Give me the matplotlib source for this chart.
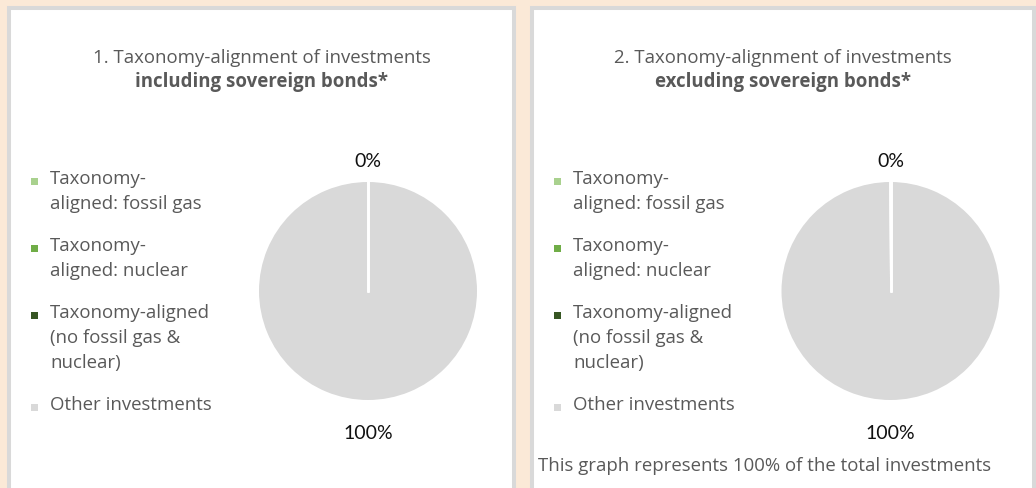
import numpy as np
import matplotlib.pyplot as plt
from matplotlib.patches import Rectangle

W, H = 1036, 488

categories = ['Taxonomy-aligned: fossil gas', 'Taxonomy-aligned: nuclear',
              'Taxonomy-aligned (no fossil gas & nuclear)', 'Other investments']
legend_lines = [['Taxonomy-', 'aligned: fossil gas'],
                ['Taxonomy-', 'aligned: nuclear'],
                ['Taxonomy-aligned', '(no fossil gas &', 'nuclear)'],
                ['Other investments']]
colors = ['#A9D18E', '#70AD47', '#375623', '#D9D9D9']

incl_values = [0, 0, 0, 100]
excl_values = [0, 0, 0, 100]

titles = ['1. Taxonomy-alignment of investments', '2. Taxonomy-alignment of investments']
subtitles = ['including sovereign bonds*', 'excluding sovereign bonds*']
footer = 'This graph represents 100% of the total investments'

bg = '#FBE9D7'
border = '#D9D9D9'
grey_text = '#595959'
font = 'Open Sans'
fs = 13.4


def fx(x):
    return x / W


def fy(y):
    # pixel from top -> figure fraction
    return 1 - y / H


fig = plt.figure(figsize=(W / 100, H / 100), dpi=100, facecolor=bg)

# panel boxes (left edge, right edge in pixels)
panels = [(9, 514), (532, 1034)]
for x0, x1 in panels:
    fig.patches.append(Rectangle((fx(x0), fy(H + 20)), fx(x1 - x0), (H + 20 - 8.5) / H,
                                 transform=fig.transFigure, facecolor='white',
                                 edgecolor=border, linewidth=2.9, zorder=-5))


def draw_panel(x0, x1, title, subtitle, values, pie_cx):
    cx = (x0 + x1) / 2
    fig.text(fx(cx), fy(58), title, ha='center', va='center', fontsize=fs,
             color=grey_text, family=font)
    fig.text(fx(cx), fy(82), subtitle, ha='center', va='center', fontsize=fs,
             color=grey_text, family=font, fontweight='bold')

    # legend
    y = 179
    for lines, c in zip(legend_lines, colors):
        fig.patches.append(Rectangle((fx(x0 + 22), fy(y + 6)), fx(7), 7 / H,
                                     transform=fig.transFigure, facecolor=c,
                                     edgecolor='none'))
        for i, line in enumerate(lines):
            fig.text(fx(x0 + 41), fy(y + i * 25), line, ha='left', va='center',
                     fontsize=fs, color=grey_text, family=font)
        y += len(lines) * 25 + 17

    # pie
    r = 109
    cy = 291
    ax = fig.add_axes([fx(pie_cx - r), fy(cy + r), fx(2 * r), 2 * r / H])
    wedges, _ = ax.pie(values, colors=colors, startangle=90, counterclock=False,
                       wedgeprops=dict(edgecolor='none', linewidth=0))
    ax.set_xlim(-1, 1)
    ax.set_ylim(-1, 1)
    ax.set_aspect('auto')
    ax.axis('off')

    # white separators between slices
    for w in wedges:
        t = np.deg2rad(w.theta1)
        ax.plot([0, np.cos(t)], [0, np.sin(t)], color='white', lw=2.0,
                solid_capstyle='round')

    drawn = set()
    total = sum(values)
    for w, v in zip(wedges, values):
        mid = np.deg2rad((w.theta1 + w.theta2) / 2)
        key = (round(np.cos(mid), 3), round(np.sin(mid), 3))
        if key in drawn:
            continue
        drawn.add(key)
        dist = 1.19 if np.sin(mid) > 0 else 1.31
        ax.text(dist * np.cos(mid), dist * np.sin(mid), f'{v / total * 100:.0f}%',
                ha='center', va='center', fontsize=14, color='#111111',
                family='Lato')


draw_panel(9, 514, titles[0], subtitles[0], incl_values, 368)
draw_panel(532, 1034, titles[1], subtitles[1], excl_values, 890.5)

fig.text(fx(538), fy(466), footer, ha='left', va='center', fontsize=fs,
         color=grey_text, family=font)

fig.savefig('out.png', dpi=100, facecolor=bg)
